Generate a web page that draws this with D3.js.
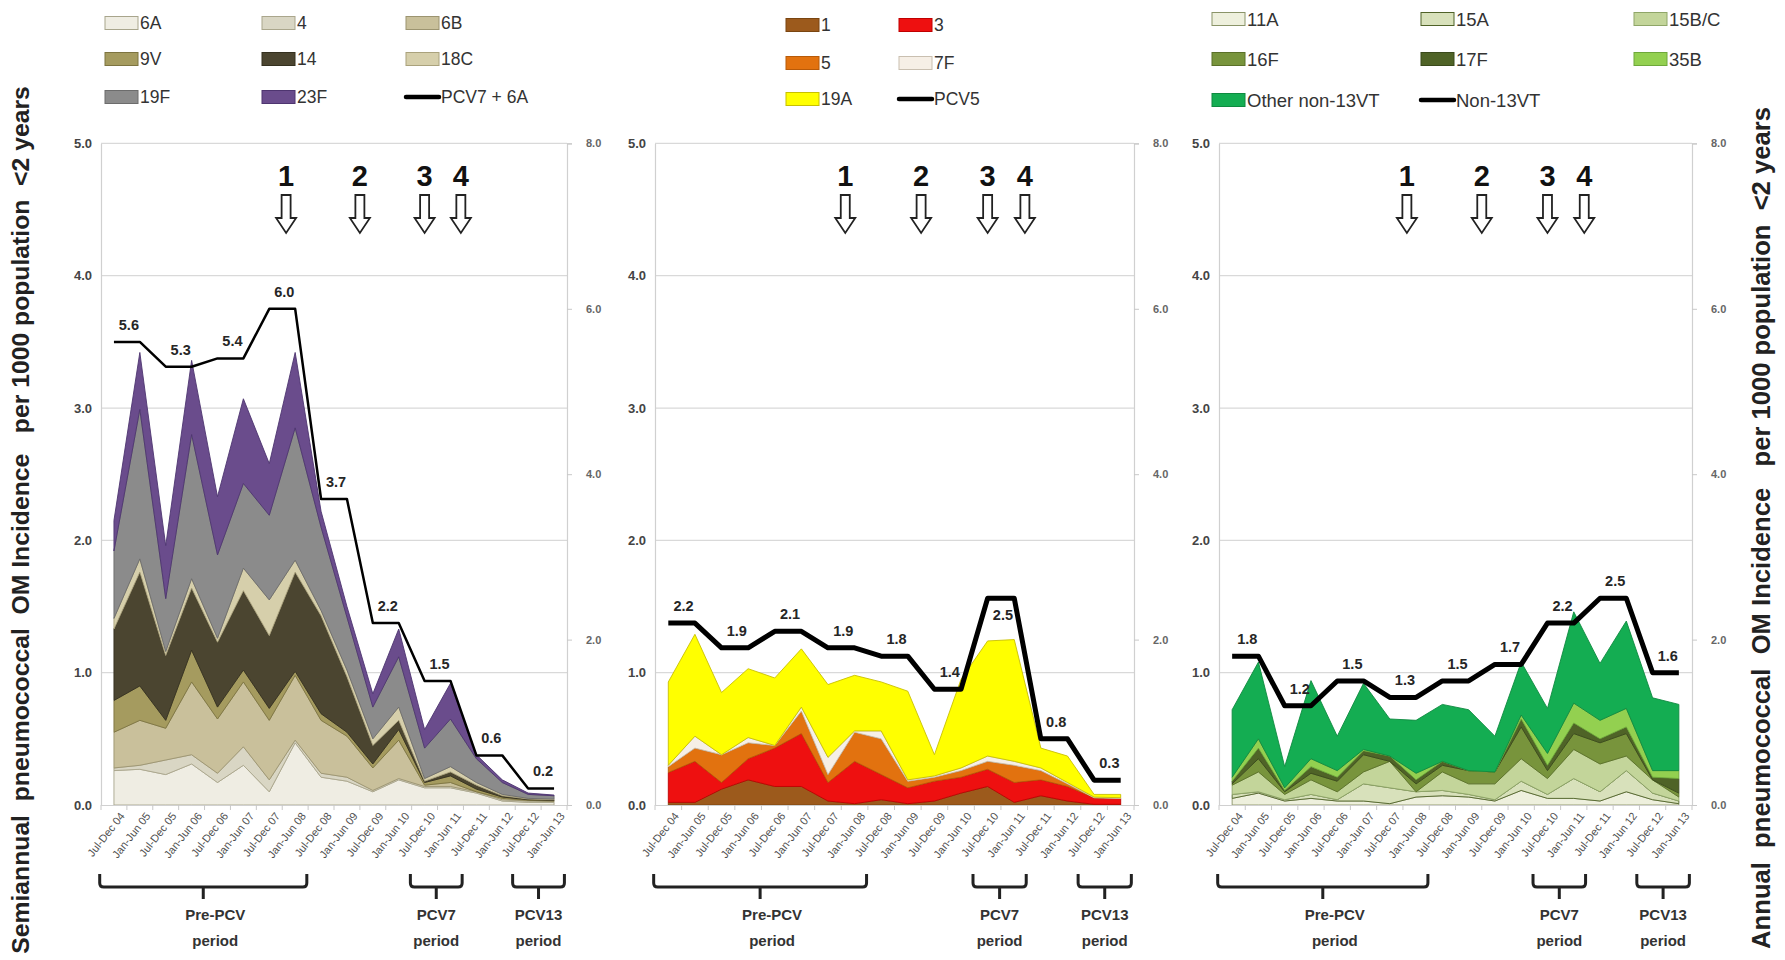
<!DOCTYPE html>
<html>
<head>
<meta charset="utf-8">
<script src="https://cdn.jsdelivr.net/npm/d3@7"></script>
<style>
  body { margin: 0; background: #fff; }
  svg text { font-family: "Liberation Sans", Arial, sans-serif; }
</style>
</head>
<body>
<svg id="chart" width="1785" height="960"></svg>
<script>
// categories (semiannual periods)
const periods = ["Jul-Dec 04","Jan-Jun 05","Jul-Dec 05","Jan-Jun 06","Jul-Dec 06","Jan-Jun 07",
  "Jul-Dec 07","Jan-Jun 08","Jul-Dec 08","Jan-Jun 09","Jul-Dec 09","Jan-Jun 10",
  "Jul-Dec 10","Jan-Jun 11","Jul-Dec 11","Jan-Jun 12","Jul-Dec 12","Jan-Jun 13"];

// panel 1: PCV7 serotypes + 6A (semiannual incidence)
const s6A  = [0.26,0.27,0.23,0.31,0.17,0.30,0.10,0.47,0.21,0.18,0.10,0.19,0.13,0.13,0.09,0.03,0.02,0.02];
const s4   = [0.02,0.03,0.11,0.07,0.07,0.14,0.09,0.02,0.03,0.03,0.01,0.01,0.01,0.01,0.01,0.01,0.01,0.01];
const s6B  = [0.27,0.34,0.24,0.55,0.41,0.49,0.45,0.49,0.40,0.31,0.17,0.29,0.01,0.03,0.00,0.01,0.005,0.00];
const s9V  = [0.24,0.26,0.06,0.24,0.09,0.09,0.09,0.03,0.05,0.03,0.03,0.08,0.02,0.05,0.02,0.01,0.005,0.005];
const s14  = [0.54,0.86,0.49,0.47,0.49,0.60,0.55,0.75,0.74,0.42,0.14,0.07,0.01,0.03,0.03,0.01,0.005,0.005];
const s18C = [0.08,0.10,0.03,0.07,0.03,0.17,0.27,0.09,0.04,0.05,0.05,0.10,0.02,0.04,0.02,0.01,0.005,0.005];
const s19F = [0.51,1.13,0.40,1.09,0.63,0.64,0.64,1.00,0.63,0.40,0.24,0.38,0.23,0.36,0.18,0.09,0.03,0.025];
const s23F = [0.23,0.43,0.40,0.56,0.44,0.64,0.39,0.57,0.12,0.08,0.10,0.21,0.14,0.27,0.03,0.02,0.01,0.005];
const pcv7Annual = [5.6,5.3,5.4,6.0,3.7,2.2,1.5,0.6,0.2];

// panel 2: PCV5 serotypes
const s1   = [0.02,0.02,0.12,0.19,0.14,0.14,0.03,0.01,0.04,0.01,0.03,0.09,0.14,0.02,0.07,0.03,0.005,0.005];
const s3   = [0.225,0.31,0.05,0.16,0.29,0.40,0.14,0.32,0.19,0.12,0.15,0.12,0.13,0.15,0.12,0.11,0.05,0.045];
const s5   = [0.045,0.10,0.21,0.12,0.02,0.17,0.06,0.22,0.27,0.05,0.03,0.05,0.06,0.13,0.07,0.02,0.00,0.00];
const s7F  = [0.01,0.09,0.00,0.04,0.00,0.03,0.13,0.01,0.06,0.01,0.01,0.02,0.04,0.03,0.02,0.01,0.005,0.005];
const s19A = [0.63,0.77,0.47,0.52,0.51,0.44,0.55,0.42,0.37,0.67,0.16,0.67,0.87,0.92,0.15,0.20,0.02,0.025];
const pcv5Annual = [2.2,1.9,2.1,1.9,1.8,1.4,2.5,0.8,0.3];

// panel 3: non-13VT serotypes
const s11A   = [0.05,0.09,0.03,0.05,0.03,0.03,0.01,0.06,0.07,0.06,0.03,0.11,0.05,0.05,0.03,0.10,0.04,0.01];
const s15A   = [0.03,0.01,0.01,0.03,0.01,0.13,0.12,0.04,0.04,0.02,0.01,0.07,0.03,0.15,0.07,0.16,0.05,0.02];
const s15BC  = [0.07,0.15,0.04,0.11,0.06,0.09,0.20,0.00,0.14,0.08,0.12,0.17,0.12,0.22,0.21,0.11,0.10,0.03];
const s16F   = [0.01,0.10,0.02,0.05,0.08,0.13,0.00,0.06,0.05,0.10,0.09,0.24,0.06,0.12,0.16,0.17,0.00,0.03];
const s17F   = [0.02,0.08,0.01,0.05,0.03,0.03,0.04,0.03,0.03,0.00,0.00,0.06,0.04,0.08,0.03,0.05,0.02,0.11];
const s35B   = [0.03,0.07,0.02,0.06,0.05,0.01,0.00,0.05,0.00,0.00,0.00,0.03,0.09,0.15,0.14,0.14,0.05,0.06];
const sOther = [0.51,0.58,0.16,0.59,0.26,0.50,0.28,0.40,0.43,0.46,0.27,0.40,0.34,0.69,0.43,0.66,0.55,0.50];
const non13Annual = [1.8,1.2,1.5,1.3,1.5,1.7,2.2,2.5,1.6];

// vaccine events (position in period index units) and period brackets
const eventLabels = ["1","2","3","4"];
const eventPos = [6.65, 9.5, 12.0, 13.4];
const bracketNames = ["Pre-PCV","PCV7","PCV13"];
const bracketSpans = [[-0.55,7.45],[11.45,13.45],[15.4,17.4]];

const leftTicks = [0,1,2,3,4,5];
const rightTicks = [0,2,4,6,8];

const svg = d3.select("#chart");

const panels = [
  { x0: 101, x1: 567,
    keys: ["6A","4","6B","9V","14","18C","19F","23F"],
    values: [s6A,s4,s6B,s9V,s14,s18C,s19F,s23F],
    fills: ["#efede3","#d9d6c4","#c9c09b","#a59b5f","#4b4530","#d6cfab","#8b8b8b","#6a4c8c"],
    strokes: ["#a8a58c","#aaa68c","#9c9470","#7d7440","#34301f","#aaa27c","#6c6c6c","#4e3570"],
    annual: pcv7Annual, lineName: "PCV7 + 6A", lineW: 2.5, below: [], font: "Liberation Sans",
    legendX: [105, 262, 406], legendY: [23, 59, 97], legendFont: "Liberation Sans", legendCols: 3 },
  { x0: 655, x1: 1134,
    keys: ["1","3","5","7F","19A"],
    values: [s1,s3,s5,s7F,s19A],
    fills: ["#9c5a1c","#ee1010","#e2720f","#f6efe6","#ffff00"],
    strokes: ["#7a4510","#c00000","#b85a08","#c9bfb0","#c8c000"],
    annual: pcv5Annual, lineName: "PCV5", lineW: 5, below: [6], font: "Liberation Sans",
    legendX: [786, 899], legendY: [25, 63, 99], legendFont: "Liberation Sans", legendCols: 2 },
  { x0: 1219, x1: 1692,
    keys: ["11A","15A","15B/C","16F","17F","35B","Other non-13VT"],
    values: [s11A,s15A,s15BC,s16F,s17F,s35B,sOther],
    fills: ["#eef0dd","#d8e1bb","#c3d59a","#78943c","#4f6327","#93d050","#14ad52"],
    strokes: ["#8a9468","#4f6228","#8fa668","#5a7028","#3a4a1c","#6ea83a","#0e8a40"],
    annual: non13Annual, lineName: "Non-13VT", lineW: 5, below: [], font: "Lato",
    legendX: [1212, 1421, 1634], legendY: [19, 59, 100], legendFont: "Lato", legendCols: 3 }
];

const yBase = 805, yTop = 143.4;
const yL = d3.scaleLinear().domain([0, 5]).range([yBase, yTop]);
const yR = d3.scaleLinear().domain([0, 8]).range([yBase, yTop]);

panels.forEach((p, pi) => {
  const g = svg.append("g");
  const x = d3.scalePoint().domain(periods).range([p.x0, p.x1]).padding(0.5);
  const xi = d3.scaleLinear().domain([0, periods.length - 1])
    .range([x(periods[0]), x(periods[periods.length - 1])]);

  // gridlines
  g.append("g").selectAll("line").data(leftTicks.slice(1)).join("line")
    .attr("x1", p.x0).attr("x2", p.x1)
    .attr("y1", d => yL(d)).attr("y2", d => yL(d))
    .attr("stroke", "#d9d9d9").attr("stroke-width", 1.2);

  // stacked areas
  const rows = periods.map((per, i) => {
    const r = { period: per };
    p.keys.forEach((k, j) => r[k] = p.values[j][i]);
    return r;
  });
  const stacked = d3.stack().keys(p.keys)(rows);
  const area = d3.area()
    .x((d, i) => x(periods[i]))
    .y0(d => yL(d[0])).y1(d => yL(d[1]));
  g.append("g").selectAll("path").data(stacked).join("path")
    .attr("d", area)
    .attr("fill", (d, i) => p.fills[i])
    .attr("stroke", (d, i) => p.strokes[i])
    .attr("stroke-width", 0.9)
    .attr("stroke-linejoin", "round");

  // left axis labels
  const la = g.append("g").attr("transform", `translate(${p.x0},0)`)
    .call(d3.axisLeft(yL).tickValues(leftTicks).tickFormat(d3.format(".1f")).tickSize(0).tickPadding(9));
  la.select(".domain").attr("stroke", "#d0d0d0").attr("stroke-width", 1.2);
  la.selectAll("text").attr("font-size", 13).attr("font-weight", "bold").attr("fill", "#444")
    .attr("font-family", "Liberation Sans, Arial, sans-serif");

  // right axis
  const ra = g.append("g").attr("transform", `translate(${p.x1},0)`)
    .call(d3.axisRight(yR).tickValues(rightTicks).tickFormat(d3.format(".1f")).tickSize(5).tickPadding(14));
  ra.select(".domain").attr("stroke", "#d0d0d0").attr("stroke-width", 1.2);
  ra.selectAll(".tick line").attr("stroke", "#c8c8c8");
  ra.selectAll("text").attr("font-size", 11).attr("font-weight", "bold").attr("fill", "#666")
    .attr("font-family", "Liberation Sans, Arial, sans-serif");

  // x axis
  const xa = g.append("g").attr("transform", `translate(0,${yBase})`)
    .call(d3.axisBottom(x).tickSize(0).tickPadding(6));
  xa.select(".domain").attr("stroke", "#d0d0d0").attr("stroke-width", 1.2);
  xa.selectAll("text")
    .attr("font-size", 11).attr("fill", "#505050")
    .attr("font-family", p.font + ", sans-serif")
    .attr("text-anchor", "end")
    .attr("dy", "0.35em")
    .attr("transform", "translate(3,5) rotate(-52)");
  // separators between categories
  g.append("g").selectAll("line").data(d3.range(periods.length + 1)).join("line")
    .attr("x1", d => xi(d - 0.5)).attr("x2", d => xi(d - 0.5))
    .attr("y1", yBase).attr("y2", yBase + 5)
    .attr("stroke", "#c8c8c8");

  // annual step line
  const linePts = [];
  p.annual.forEach((v, k) => { linePts.push([2 * k, v]); linePts.push([2 * k + 1, v]); });
  g.append("path").datum(linePts)
    .attr("d", d3.line().x(d => xi(d[0])).y(d => yR(d[1])))
    .attr("fill", "none").attr("stroke", "#000")
    .attr("stroke-width", p.lineW).attr("stroke-linejoin", "round");
  g.append("g").selectAll("text").data(p.annual).join("text")
    .attr("x", (d, k) => xi(2 * k + 0.5) + 2)
    .attr("y", (d, k) => p.below.includes(k) ? yR(d) + 22 : yR(d) - 12)
    .attr("text-anchor", "middle")
    .attr("font-size", 14.5).attr("font-weight", "bold").attr("fill", "#262626")
    .attr("font-family", p.font + ", sans-serif")
    .text(d => d3.format(".1f")(d));

  // vaccine introduction arrows
  const ev = g.append("g").selectAll("g").data(eventLabels).join("g")
    .attr("transform", (d, i) => `translate(${xi(eventPos[i])},0)`);
  ev.append("text").attr("y", 186).attr("text-anchor", "middle")
    .attr("font-size", 29).attr("font-weight", "bold").attr("fill", "#111")
    .text(d => d);
  ev.append("path")
    .attr("d", "M-4.5,195 L4.5,195 L4.5,218 L10,218 L0,233 L-10,218 L-4.5,218 Z")
    .attr("fill", "#fff").attr("stroke", "#222").attr("stroke-width", 1.8)
    .attr("stroke-linejoin", "miter");

  // period brackets
  const bt = 874, bl = 887, bs = 899;
  const br = g.append("g").selectAll("g").data(bracketNames).join("g");
  br.append("path")
    .attr("d", (d, i) => {
      const a = xi(bracketSpans[i][0]), b = xi(bracketSpans[i][1]), m = (a + b) / 2;
      return `M${a},${bt} L${a},${bl - 4} Q${a},${bl} ${a + 4},${bl} L${b - 4},${bl} Q${b},${bl} ${b},${bl - 4} L${b},${bt} M${m},${bl} L${m},${bs}`;
    })
    .attr("fill", "none").attr("stroke", "#222").attr("stroke-width", 3);
  br.append("text")
    .attr("x", (d, i) => xi((bracketSpans[i][0] + bracketSpans[i][1]) / 2) + (i === 0 ? 12 : 0))
    .attr("y", 920).attr("text-anchor", "middle")
    .attr("font-size", 15).attr("font-weight", "bold").attr("fill", "#333")
    .attr("font-family", "Lato, sans-serif")
    .text(d => d);
  br.append("text")
    .attr("x", (d, i) => xi((bracketSpans[i][0] + bracketSpans[i][1]) / 2) + (i === 0 ? 12 : 0))
    .attr("y", 946).attr("text-anchor", "middle")
    .attr("font-size", 15).attr("font-weight", "bold").attr("fill", "#333")
    .attr("font-family", "Lato, sans-serif")
    .text("period");

  // legend
  const items = p.keys.map((k, i) => ({ name: k, fill: p.fills[i], stroke: p.strokes[i], line: false }));
  items.push({ name: p.lineName, line: true });
  const lg = g.append("g").selectAll("g").data(items).join("g")
    .attr("transform", (d, i) => `translate(${p.legendX[i % p.legendCols]},${p.legendY[Math.floor(i / p.legendCols)]})`);
  lg.filter(d => !d.line).append("rect")
    .attr("x", 0).attr("y", -6.5).attr("width", 33).attr("height", 13)
    .attr("fill", d => d.fill).attr("stroke", d => d.stroke).attr("stroke-width", 1);
  lg.filter(d => d.line).append("line")
    .attr("x1", 0).attr("x2", 33).attr("y1", 0).attr("y2", 0)
    .attr("stroke", "#000").attr("stroke-width", 4.5).attr("stroke-linecap", "round");
  lg.append("text").attr("x", 35).attr("y", 0).attr("dy", "0.36em")
    .attr("font-size", pi === 2 ? 18.5 : 17.5).attr("fill", "#333")
    .attr("font-family", p.legendFont + ", sans-serif")
    .text(d => d.name);
});

// axis titles, sized to span the reference length
function axisTitle(txt, x, y, target) {
  const t = svg.append("text")
    .attr("transform", `translate(${x},${y}) rotate(-90)`)
    .attr("text-anchor", "middle").attr("dy", "0.35em")
    .attr("font-weight", "bold").attr("fill", "#222")
    .style("white-space", "pre")
    .attr("font-size", 20)
    .text(txt);
  const len = t.node().getComputedTextLength();
  t.attr("font-size", 20 * target / len);
}
axisTitle("Semiannual  pneumococcal  OM Incidence   per 1000 population  <2 years", 20, 520, 868);
axisTitle("Annual  pneumococcal  OM Incidence   per 1000 population  <2 years", 1761, 528, 842);
</script>
</body>
</html>
